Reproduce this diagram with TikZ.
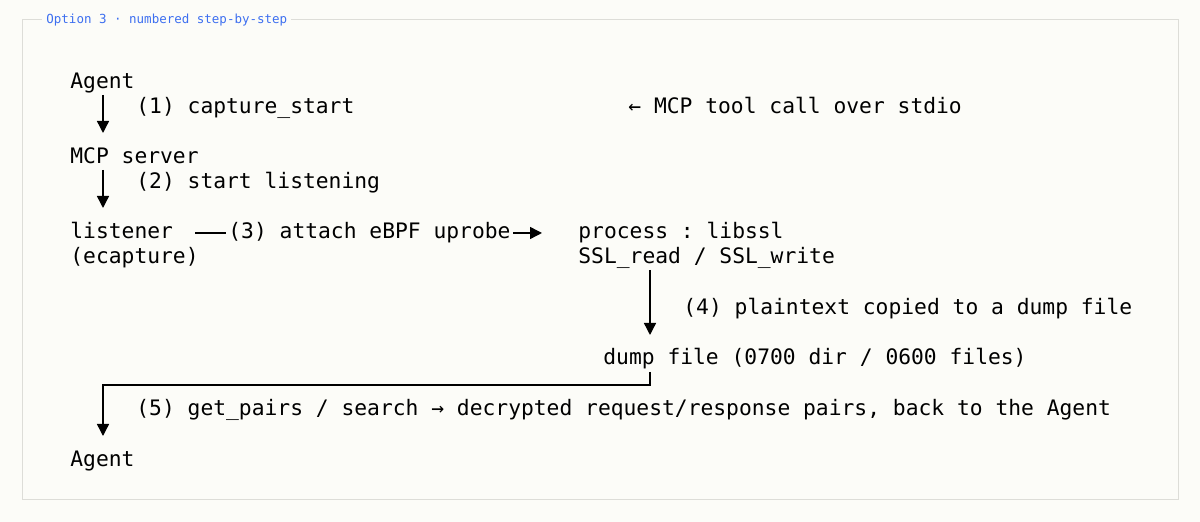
\documentclass[tikz,border=0pt]{standalone}
\usepackage{fontspec}
\setmonofont{DejaVu Sans Mono}
\usetikzlibrary{arrows.meta}
\definecolor{paper}{HTML}{FCFCF8}
\definecolor{titleblue}{HTML}{3D6FF0}
\definecolor{framegray}{HTML}{DDDDD8}
\begin{document}
\begin{tikzpicture}[x=0.5pt, y=-0.5pt,
  every node/.style={inner sep=0pt, anchor=base west, font=\ttfamily\fontsize{10.65}{12}\selectfont},
  lbl/.style={},
  flow/.style={draw=black, line width=0.7pt, -{Triangle[length=6pt,width=6pt]}, shorten >=4pt}]

% Frame and title
\fill[paper] (0,0) rectangle (1200,522);
\useasboundingbox (0,0) rectangle (1200,522);
\draw[framegray, line width=0.5pt] (22,20) rectangle (1178,500);
\node[fill=paper, inner xsep=2pt, text=titleblue, font=\ttfamily\fontsize{6.25}{8}\selectfont] (title) at (42,24) {Option 3 · numbered step-by-step};

% Nodes
\node (agent1) at (70,89) {Agent};
\node (mcp) at (70,164) {MCP server};
\node (listener) at (70,239) {listener};
\node (ecap) at (70,264) {(ecapture)};
\node (proc) at (578,239) {process : libssl};
\node (ssl) at (578,264) {SSL\_read / SSL\_write};
\node (dump) at (603,365) {dump file  (0700 dir / 0600 files)};
\node (agent2) at (70,467) {Agent};

% Labels
\node (l1) at (136,114) {(1) capture\_start};
\node (note) at (628,114) {← MCP tool call over stdio};
\node (l2) at (136,189) {(2) start listening};
\node (l4) at (683,315) {(4) plaintext copied to a dump file};
\node (l5) at (136,416) {(5) get\_pairs / search  →  decrypted request/response pairs, back to the Agent};

% Connectors
\coordinate (a1) at (103,95);
\coordinate (a2) at (103,141);
\draw[flow] (a1) -- (a2);
\coordinate (m1) at (103,170);
\coordinate (m2) at (103,216);
\draw[flow] (m1) -- (m2);
\draw[flow] (listener.east |- 0,233) ++(22,0) coordinate (s3) -- (550,233) coordinate (e3);
\node[fill=paper, inner xsep=1pt] (l3) at (226,239) {(3) attach eBPF uprobe};
\coordinate (p1) at (650,270);
\coordinate (p2) at (650,343);
\draw[flow] (p1) -- (p2);
\coordinate (d1) at (650,372);
\coordinate (d2) at (650,385);
\coordinate (d3) at (103,385);
\coordinate (d4) at (103,444);
\draw[flow] (d1) -- (d2) -- (d3) -- (d4);
\end{tikzpicture}
\end{document}
